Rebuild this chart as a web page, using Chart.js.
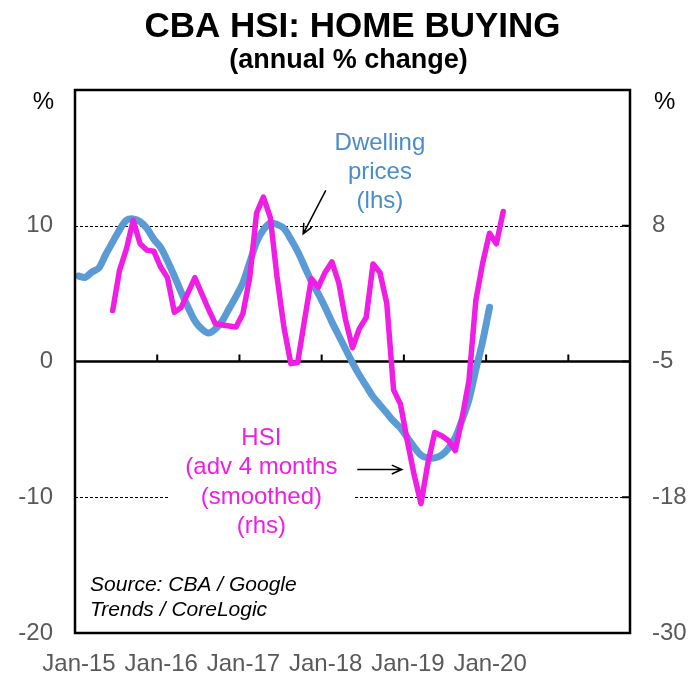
<!DOCTYPE html>
<html lang="en">
<head>
<meta charset="UTF-8">
<title>CBA HSI: Home Buying</title>
<script src="https://cdn.jsdelivr.net/npm/chart.js"></script>
<style>
  html, body { margin: 0; padding: 0; background: #fff; }
</style>
</head>
<body>
<canvas id="hsiChart" width="688" height="675"></canvas>

<script>
// monthly data, index 0 = Jan-15 (points sit mid-month)
const yearLabels = ['Jan-15', 'Jan-16', 'Jan-17', 'Jan-18', 'Jan-19', 'Jan-20', ''];

// dwelling prices, annual % change (lhs), Jan-15 .. Jan-20
const dwellingPrices = [
  6.3, 6.2, 6.6, 6.9, 7.9, 8.8, 9.7, 10.4, 10.5, 10.3, 9.8, 9.0,
  8.4, 7.4, 6.3, 5.1, 4.0, 3.0, 2.4, 2.1, 2.4, 3.0, 3.9, 4.8,
  5.8, 7.3, 8.8, 9.7, 10.2, 10.1, 9.8, 9.0, 8.1, 7.0, 5.9, 5.0,
  4.0, 2.9, 1.9, 0.9, -0.1, -1.0, -1.8, -2.6, -3.2, -3.8, -4.4, -4.9,
  -5.6, -6.3, -6.9, -7.1, -7.1, -6.9, -6.4, -5.6, -4.3, -2.8, -0.6, 1.5,
  4.0
];

// HSI, advanced 4 months, smoothed (rhs), starts Jun-15
const hsiStart = 5;
const hsi = [
  0.0, 3.8, 5.8, 8.5, 6.3, 5.7, 5.6,
  4.1, 3.1, -0.15, 0.3, 1.7, 3.1, 1.6, 0.1, -1.25, -1.35, -1.45, -1.55,
  -0.3, 3.1, 9.2, 10.7, 8.8, 3.1, -1.6, -5.0, -4.9, -0.9, 3.0, 2.2,
  3.6, 4.6, 2.6, -0.9, -3.5, -1.7, -0.65, 4.4, 3.6, 0.7, -7.5, -8.8,
  -12.3, -15.5, -18.2, -14.4, -11.5, -11.8, -12.25, -13.2, -10.1, -6.6, 0.95, 4.5,
  7.3, 6.3, 9.35
];

const leftTicks = [-20, -10, 0, 10];
const rightTicks = [-30.4, -17.6, -4.8, 8];
const rightTickLabels = ['-30', '-18', '-5', '8'];
const dashedLines = [10, -10];

const FONT = "'Liberation Sans', Arial, sans-serif";
const BLUE = '#5b9bd5';
const PINK = '#f01de4';
const GREY = '#595959';

const dwellingPts = dwellingPrices.map((v, i) => ({ x: i + 0.5, y: v }));
const hsiPts = hsi.map((v, k) => ({ x: hsiStart + k + 0.5, y: v }));

function arrow(ctx, x1, y1, x2, y2) {
  const a = Math.atan2(y2 - y1, x2 - x1);
  const len = 11, spread = 0.42;
  ctx.beginPath();
  ctx.moveTo(x1, y1);
  ctx.lineTo(x2, y2);
  ctx.moveTo(x2 - len * Math.cos(a - spread), y2 - len * Math.sin(a - spread));
  ctx.lineTo(x2, y2);
  ctx.lineTo(x2 - len * Math.cos(a + spread), y2 - len * Math.sin(a + spread));
  ctx.stroke();
}

const decor = {
  id: 'decor',
  beforeDatasetsDraw(chart) {
    const { ctx, chartArea: a, scales } = chart;
    const x = scales.x, y = scales.y, y2 = scales.y2;
    ctx.save();
    // dashed grid lines
    ctx.strokeStyle = '#000';
    ctx.lineWidth = 1;
    ctx.setLineDash([3, 2]);
    dashedLines.forEach(v => {
      const py = Math.round(y.getPixelForValue(v)) + 0.5;
      ctx.beginPath();
      ctx.moveTo(a.left, py);
      ctx.lineTo(a.right, py);
      ctx.stroke();
    });
    ctx.setLineDash([]);
    // zero line with year ticks
    const zy = y.getPixelForValue(0);
    ctx.lineWidth = 2.5;
    ctx.beginPath();
    ctx.moveTo(a.left, zy);
    ctx.lineTo(a.right, zy);
    ctx.stroke();
    ctx.lineWidth = 2;
    x.ticks.forEach(t => {
      const px = x.getPixelForValue(t.value);
      ctx.beginPath();
      ctx.moveTo(px, zy);
      ctx.lineTo(px, zy - 7);
      ctx.stroke();
    });
    // right axis inner ticks
    rightTicks.forEach(v => {
      const py = y2.getPixelForValue(v);
      ctx.beginPath();
      ctx.moveTo(a.right, py);
      ctx.lineTo(a.right - 8, py);
      ctx.stroke();
    });
    ctx.restore();
  },
  afterDatasetsDraw(chart) {
    const { ctx, chartArea: a, scales } = chart;
    const x = scales.x, y = scales.y, y2 = scales.y2;
    const X = v => x.getPixelForValue(v);
    const Y = v => y.getPixelForValue(v);
    ctx.save();
    // plot frame
    ctx.strokeStyle = '#000';
    ctx.lineWidth = 2.5;
    ctx.strokeRect(a.left, a.top, a.right - a.left, a.bottom - a.top);

    // title
    const cx = (a.left + a.right) / 2;
    ctx.fillStyle = '#000';
    ctx.textAlign = 'center';
    ctx.textBaseline = 'alphabetic';
    ctx.font = 'bold 35px ' + FONT;
    ctx.fillText('CBA HSI: HOME BUYING', cx, 37);
    ctx.font = 'bold 27px ' + FONT;
    ctx.fillText('(annual % change)', cx - 4, 68);

    // % unit labels
    ctx.font = '24px ' + FONT;
    ctx.textBaseline = 'middle';
    ctx.textAlign = 'right';
    ctx.fillText('%', y.right - 21, Y(19.1));
    ctx.textAlign = 'left';
    ctx.fillText('%', y2.left + 24, Y(19.1));

    // dwelling prices note
    ctx.textAlign = 'center';
    ctx.fillStyle = '#4a8bcb';
    ['Dwelling', 'prices', '(lhs)'].forEach((s, k) => {
      ctx.fillText(s, X(44.5), Y(16.1 - 2.15 * k));
    });
    ctx.strokeStyle = '#000';
    ctx.lineWidth = 1.5;
    arrow(ctx, X(36.6), Y(12.6), X(33.3), Y(9.4));

    // HSI note on white box
    ctx.fillStyle = '#fff';
    ctx.fillRect(X(13.6), Y(-4.6), X(40.6) - X(13.6), Y(-13.2) - Y(-4.6));
    ctx.fillStyle = PINK;
    ['HSI', '(adv 4 months', '(smoothed)', '(rhs)'].forEach((s, k) => {
      ctx.fillText(s, X(27.2), Y(-5.67 - 2.16 * k));
    });
    arrow(ctx, X(41.2), Y(-7.96), X(47.7), Y(-7.96));

    // source
    ctx.fillStyle = '#000';
    ctx.textAlign = 'left';
    ctx.font = 'italic 21px ' + FONT;
    ctx.fillText('Source: CBA / Google', X(2.2), Y(-16.5));
    ctx.fillText('Trends / CoreLogic', X(2.2), Y(-18.3));
    ctx.restore();
  }
};

const tickFont = { family: FONT, size: 24 };

new Chart(document.getElementById('hsiChart'), {
  type: 'line',
  data: {
    datasets: [
      {
        label: 'HSI (adv 4 months, smoothed) (rhs)',
        data: hsiPts,
        yAxisID: 'y2',
        borderColor: PINK,
        borderWidth: 5.5,
        borderJoinStyle: 'round',
        borderCapStyle: 'round',
        pointRadius: 0,
        tension: 0
      },
      {
        label: 'Dwelling prices (lhs)',
        data: dwellingPts,
        yAxisID: 'y',
        borderColor: BLUE,
        borderWidth: 7,
        borderJoinStyle: 'round',
        borderCapStyle: 'round',
        pointRadius: 0,
        tension: 0.3
      }
    ]
  },
  options: {
    responsive: false,
    animation: false,
    devicePixelRatio: 1,
    layout: { padding: { top: 90, left: 0, right: 0, bottom: 0 } },
    plugins: {
      legend: { display: false },
      tooltip: { enabled: false }
    },
    scales: {
      x: {
        type: 'linear',
        min: 0,
        max: 81,
        afterBuildTicks: s => { s.ticks = yearLabels.map((_, k) => ({ value: k * 12 })); },
        afterFit: s => { s.height = 42; },
        ticks: {
          callback: v => yearLabels[v / 12],
          color: GREY,
          font: tickFont,
          autoSkip: false,
          maxRotation: 0,
          padding: 17,
          labelOffset: 4
        },
        grid: { display: false, drawTicks: false },
        border: { display: false }
      },
      y: {
        position: 'left',
        min: -20,
        max: 20,
        afterBuildTicks: s => { s.ticks = leftTicks.map(v => ({ value: v })); },
        afterFit: s => { s.width = 75; },
        ticks: { color: GREY, font: tickFont, padding: 22 },
        grid: { display: false, drawTicks: false },
        border: { display: false }
      },
      y2: {
        position: 'right',
        min: -30.4,
        max: 20.8,
        afterBuildTicks: s => { s.ticks = rightTicks.map(v => ({ value: v })); },
        afterFit: s => { s.width = 58; },
        ticks: {
          color: GREY,
          font: tickFont,
          padding: 22,
          callback: (v, i) => rightTickLabels[i]
        },
        grid: { display: false, drawTicks: false },
        border: { display: false }
      }
    }
  },
  plugins: [decor]
});
</script>
</body>
</html>
